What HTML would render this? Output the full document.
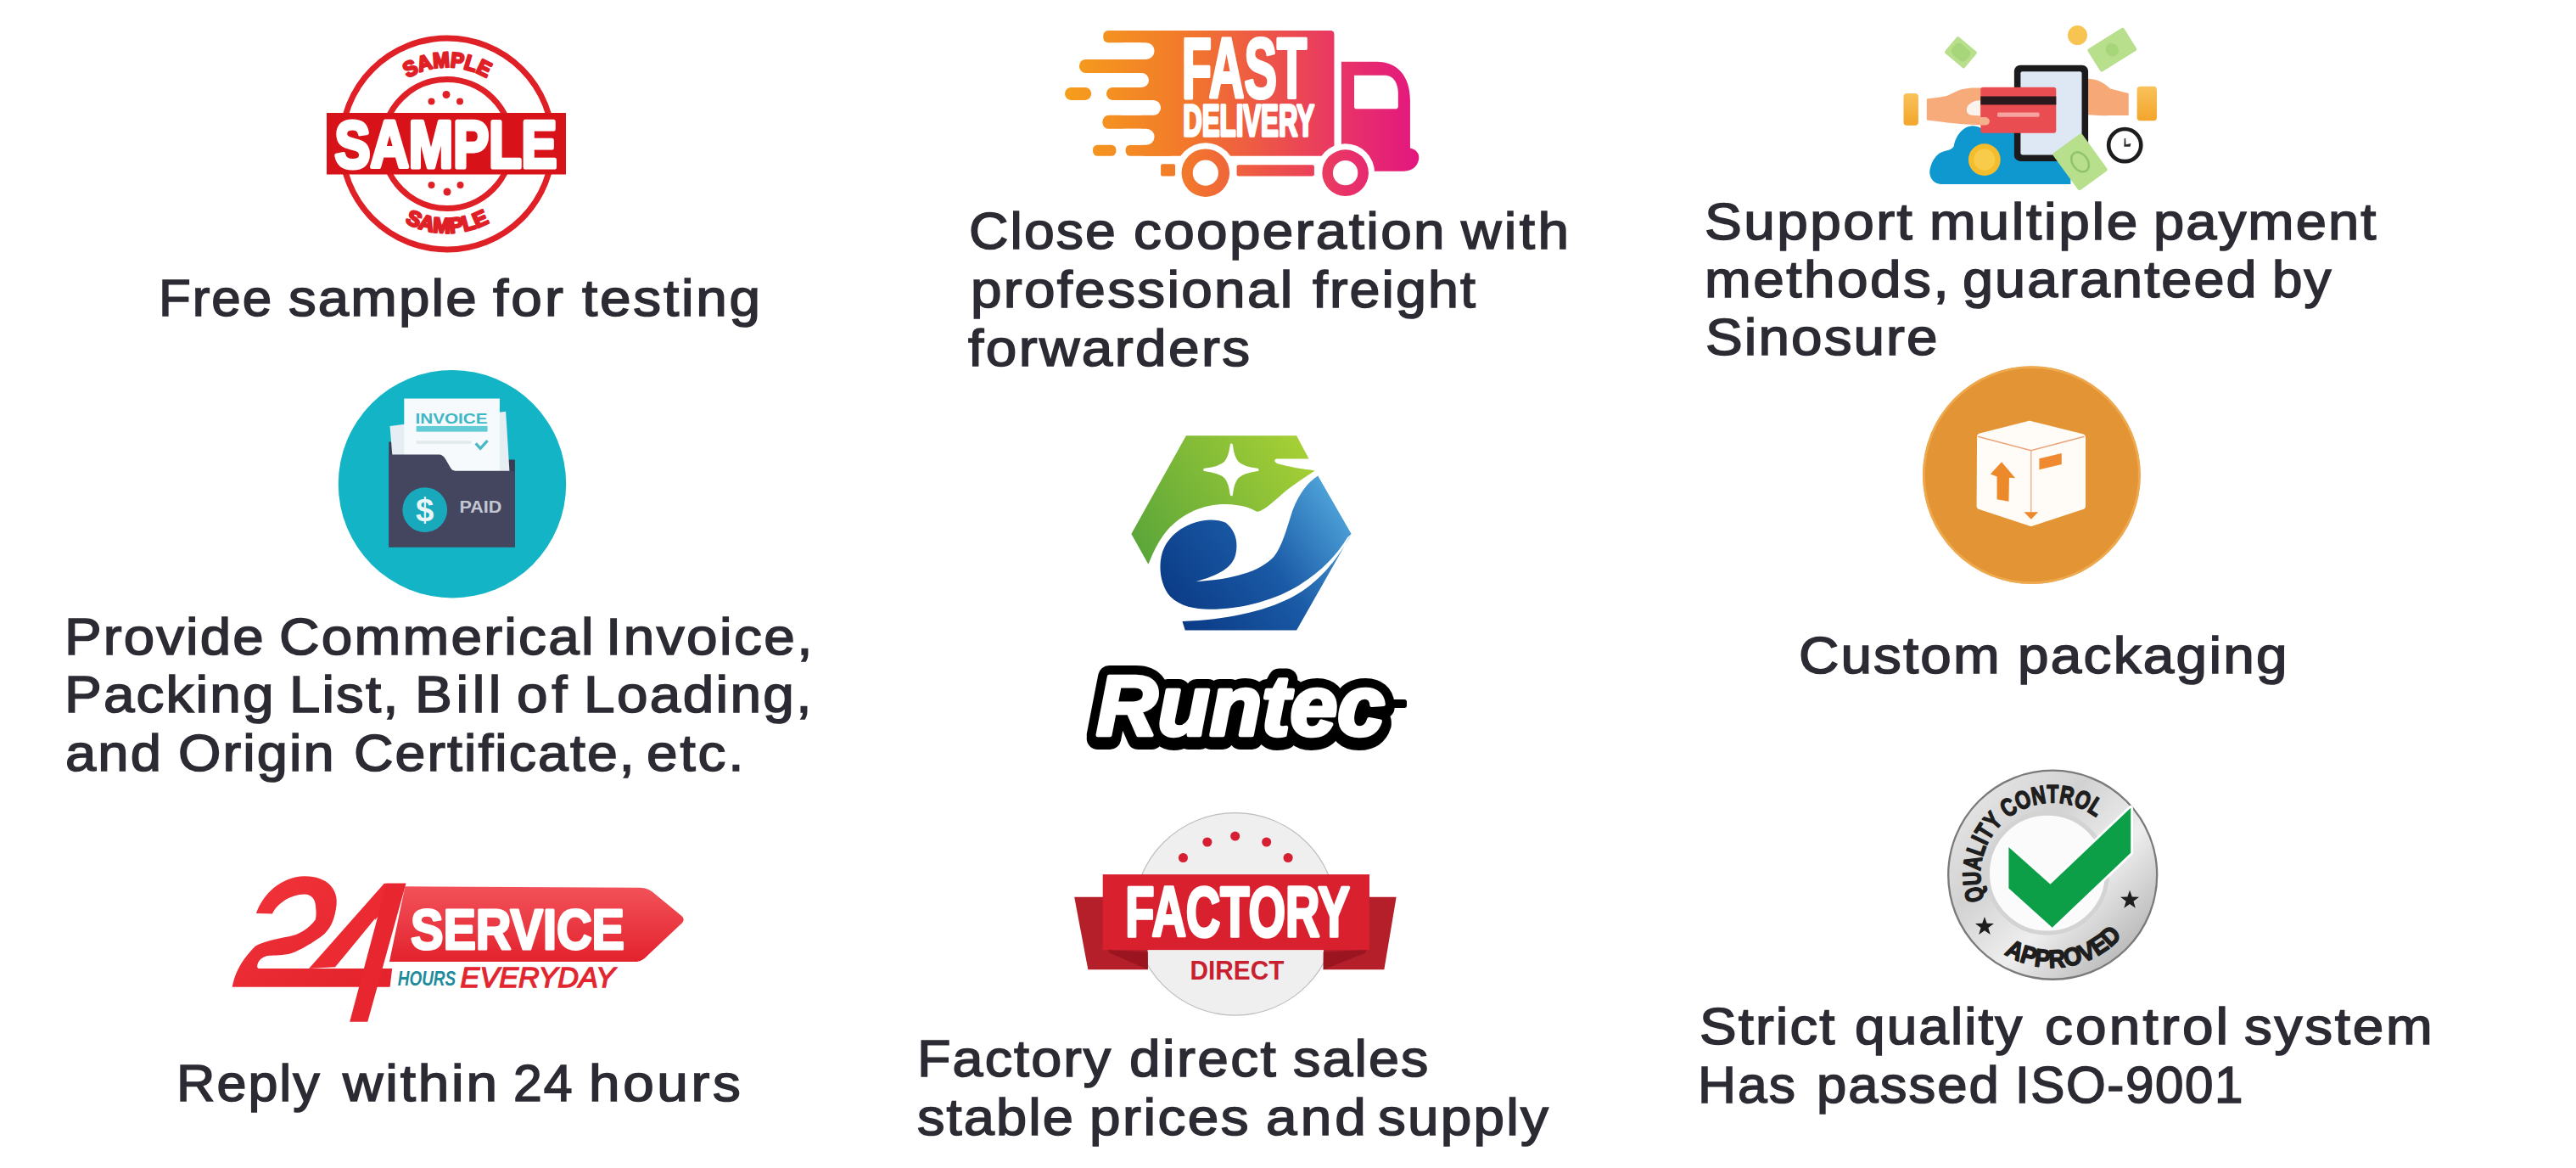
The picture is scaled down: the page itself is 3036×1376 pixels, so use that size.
<!DOCTYPE html>
<html><head><meta charset="utf-8"><style>
html,body{margin:0;padding:0;background:#fff;}
body{width:3036px;height:1376px;position:relative;overflow:hidden;}
.t{position:absolute;white-space:pre;transform-origin:0 0;font-family:"Liberation Sans",sans-serif;font-size:62px;line-height:62px;color:#2c2b33;-webkit-text-stroke:1.6px #2c2b33;}
svg{position:absolute;left:0;top:0;}
</style></head><body>
<svg width="3036" height="1376" viewBox="0 0 3036 1376">
<!-- SAMPLE stamp -->
<g id="stamp">
  <circle cx="527" cy="169.5" r="124.5" fill="none" stroke="#df2027" stroke-width="7"/>
  <circle cx="527" cy="169.5" r="76" fill="none" stroke="#df2027" stroke-width="7"/>
  <defs>
    <path id="stTop" d="M 436.5,169.5 A 90.5,90.5 0 0 1 617.5,169.5"/>
    <path id="stBot" d="M 422,169.5 A 105,105 0 0 0 632,169.5"/>
  </defs>
  <text font-family="Liberation Sans" font-weight="bold" font-size="25" fill="#df2027" stroke="#df2027" stroke-width="2.5" stroke-linejoin="round"><textPath href="#stTop" startOffset="50%" text-anchor="middle" textLength="98" lengthAdjust="spacingAndGlyphs">SAMPLE</textPath></text>
  <text font-family="Liberation Sans" font-weight="bold" font-size="25" fill="#df2027" stroke="#df2027" stroke-width="2.5" stroke-linejoin="round"><textPath href="#stBot" startOffset="50%" text-anchor="middle" textLength="104" lengthAdjust="spacingAndGlyphs">SAMPLE</textPath></text>
  <circle cx="508.5" cy="119.5" r="4" fill="#df2027"/>
  <circle cx="526" cy="111.5" r="4.5" fill="#df2027"/>
  <circle cx="542" cy="119.5" r="4" fill="#df2027"/>
  <circle cx="508.5" cy="218" r="4" fill="#df2027"/>
  <circle cx="527" cy="226" r="4.5" fill="#df2027"/>
  <circle cx="542.5" cy="218" r="4" fill="#df2027"/>
  <rect x="385" y="133" width="282" height="72.5" fill="#d81219"/>
  <text x="394.5" y="197" font-family="Liberation Sans" font-weight="bold" font-size="78" fill="#fff" stroke="#fff" stroke-width="5" stroke-linejoin="round" textLength="262" lengthAdjust="spacingAndGlyphs">SAMPLE</text>
</g>
<!-- Truck -->
<g id="truck" transform="translate(1240,20) scale(0.188359)">
  <defs>
    <linearGradient id="trg" gradientUnits="userSpaceOnUse" x1="80" y1="0" x2="2300" y2="0">
      <stop offset="0" stop-color="#f59e1c"/>
      <stop offset="0.33" stop-color="#f27a2a"/>
      <stop offset="0.62" stop-color="#ec4d4e"/>
      <stop offset="0.8" stop-color="#e8316a"/>
      <stop offset="1" stop-color="#e3167f"/>
    </linearGradient>
  </defs>
  <g fill="url(#trg)">
    <rect x="560" y="85" width="1205" height="785" rx="22"/>
    <rect x="320" y="85" width="400" height="75" rx="30"/>
    <rect x="170" y="265" width="520" height="85" rx="40"/>
    <rect x="80" y="440" width="165" height="80" rx="38"/>
    <rect x="340" y="440" width="400" height="80" rx="38"/>
    <rect x="315" y="615" width="420" height="85" rx="40"/>
    <rect x="255" y="800" width="145" height="70" rx="30"/>
    <rect x="460" y="800" width="300" height="70" rx="30"/>
    <rect x="680" y="920" width="90" height="75" rx="10"/>
    <rect x="1155" y="925" width="485" height="70" rx="12"/>
    <path d="M1810,280 L2030,280 C2160,280 2240,370 2240,520 L2240,820 C2290,830 2305,870 2290,905 C2275,950 2240,965 2180,965 L1810,965 Z"/>
  </g>
  <g fill="#fff">
    <rect x="400" y="160" width="240" height="105" rx="52"/>
    <rect x="400" y="350" width="205" height="90" rx="45"/>
    <rect x="400" y="520" width="280" height="95" rx="47"/>
    <rect x="400" y="700" width="240" height="100" rx="50"/>
    <path d="M1890,365 L2080,365 C2140,365 2165,420 2165,480 L2165,560 C2165,570 2158,575 2150,575 L1905,575 C1895,575 1890,570 1890,560 Z"/>
    <circle cx="960" cy="975" r="188"/>
    <circle cx="1835" cy="975" r="183"/>
  </g>
  <circle cx="960" cy="975" r="150" fill="url(#trg)"/>
  <circle cx="1835" cy="975" r="145" fill="url(#trg)"/>
  <circle cx="960" cy="975" r="80" fill="#fff"/>
  <circle cx="1835" cy="975" r="78" fill="#fff"/>
  <text x="811" y="504" font-family="Liberation Sans" font-weight="bold" font-size="528" fill="#fff" stroke="#fff" stroke-width="22" stroke-linejoin="round" textLength="783" lengthAdjust="spacingAndGlyphs">FAST</text>
  <text x="819" y="741" font-family="Liberation Sans" font-weight="bold" font-size="272" fill="#fff" stroke="#fff" stroke-width="18" stroke-linejoin="round" textLength="822" lengthAdjust="spacingAndGlyphs">DELIVERY</text>
</g>
<!-- Payment -->
<g id="pay" transform="translate(2230,20) scale(0.179824)">
  <defs>
    <linearGradient id="cuff" x1="0" y1="0" x2="0" y2="1">
      <stop offset="0" stop-color="#f9c25a"/><stop offset="1" stop-color="#f3a52c"/>
    </linearGradient>
  </defs>
  <!-- bills top -->
  <g transform="translate(450,232) rotate(40)"><rect x="-85" y="-70" width="170" height="140" rx="12" fill="#b7df8c"/><rect x="-60" y="-45" width="120" height="90" rx="30" fill="#a6d57a"/></g>
  <g transform="translate(1442,215) rotate(-32)"><rect x="-140" y="-88" width="280" height="176" rx="14" fill="#b7df8c"/><ellipse cx="0" cy="0" rx="40" ry="45" fill="#a6d57a"/></g>
  <circle cx="1215" cy="120" r="64" fill="#f7c451"/>
  <!-- cloud -->
  <path d="M330,1096 C255,1096 235,1030 251,985 C268,925 305,885 345,878 C375,872 398,862 405,845 C412,790 460,716 520,714 C565,712 595,735 605,750 L1170,750 L1170,1096 Z" fill="#0f97d0"/>
  <circle cx="605" cy="935" r="105" fill="#f5bd2c"/>
  <circle cx="605" cy="935" r="70" fill="#f8cc4a"/>
  <!-- right hand -->
  <path d="M1230,410 C1300,395 1370,410 1430,470 L1550,500 L1550,645 L1420,645 C1360,650 1300,640 1230,640 Z" fill="#f6a877"/>
  <rect x="1605" y="455" width="130" height="225" rx="22" fill="url(#cuff)"/>
  <!-- phone -->
  <rect x="800" y="315" width="485" height="630" rx="40" fill="#1b1b1d"/>
  <rect x="842" y="357" width="401" height="546" rx="12" fill="#dde8f4"/>
  <!-- left cuff & hand -->
  <rect x="75" y="500" width="97" height="210" rx="22" fill="url(#cuff)"/>
  <path d="M227,536 C300,528 340,522 361,516 C400,500 430,480 461,473 C500,464 530,462 575,465 L600,470 L600,709 L461,702 L361,692 L227,676 Z" fill="#f7ab7b"/>
  <!-- card -->
  <rect x="580" y="460" width="495" height="300" rx="16" fill="#ea4d51"/>
  <rect x="580" y="520" width="495" height="55" fill="#2a1a1f"/>
  <rect x="690" y="625" width="275" height="30" rx="8" fill="#f6a2a0"/>
  <!-- thumb -->
  <path d="M575,656 L612,656 C648,660 648,706 612,709 L575,709 Z" fill="#f4b08c"/>
  <path d="M578,546 C540,546 502,562 490,596 C483,626 500,640 522,643 L578,648 Z" fill="#fbf3ee"/>
  <!-- bottom bill -->
  <g transform="translate(1232,950) rotate(-36)"><rect x="-118" y="-150" width="236" height="300" rx="14" fill="#b7df8c"/><ellipse cx="0" cy="0" rx="50" ry="70" fill="none" stroke="#8fc46a" stroke-width="14"/></g>
  <!-- clock -->
  <circle cx="1525" cy="840" r="106" fill="#fff" stroke="#1d1d1f" stroke-width="26"/>
  <path d="M1522,795 L1530,795 L1532,835 L1565,828 L1560,850 L1520,850 Z" fill="#2a2a2a"/>
</g>
<!-- Invoice -->
<g id="inv" transform="translate(390,430) scale(0.239693)">
  <circle cx="596.5" cy="585" r="560" fill="#12b4c6"/>
  <path d="M285,378 L335,378 L335,465 L905,465 L905,895 L285,895 Z" fill="#3a3c52"/>
  <polygon points="290,300 860,228 878,522 308,522" fill="#e6eef4"/>
  <rect x="360" y="165" width="470" height="357" fill="#f6fafc"/>
  <text x="415" y="287" font-family="Liberation Sans" font-weight="bold" font-size="72" fill="#3fb8c6" textLength="355" lengthAdjust="spacingAndGlyphs">INVOICE</text>
  <rect x="420" y="300" width="350" height="28" fill="#63cbd6"/>
  <rect x="420" y="372" width="270" height="16" fill="#e3eaee"/>
  <path d="M712,385 L735,410 L770,372" fill="none" stroke="#4ab9c6" stroke-width="14"/>
  <path d="M285,440 L528,440 C545,440 555,448 565,465 L588,505 C594,515 600,520 612,520 L905,520 L905,895 L285,895 Z" fill="#43465e"/>
  <circle cx="462" cy="712" r="110" fill="#18aabc"/>
  <text x="462" y="768" text-anchor="middle" font-family="Liberation Sans" font-weight="bold" font-size="160" fill="#e8f6f8">$</text>
  <text x="632" y="726" font-family="Liberation Sans" font-weight="bold" font-size="84" fill="#c3c6d2" textLength="208" lengthAdjust="spacingAndGlyphs">PAID</text>
</g>
<!-- Runtec -->
<g id="runtec" transform="translate(1320,500) scale(0.222568)">
  <defs>
    <linearGradient id="rgGreen" gradientUnits="userSpaceOnUse" x1="100" y1="700" x2="1000" y2="80">
      <stop offset="0" stop-color="#5aa53a"/><stop offset="1" stop-color="#a9d135"/>
    </linearGradient>
    <linearGradient id="rgBlue" gradientUnits="userSpaceOnUse" x1="300" y1="1000" x2="1200" y2="350">
      <stop offset="0" stop-color="#0b3b86"/><stop offset="0.5" stop-color="#1a5aa6"/><stop offset="1" stop-color="#55ace0"/>
    </linearGradient>
  </defs>
  <!-- green -->
  <path d="M60,580 L350,60 L935,60 L1000,182 L830,182 C815,185 815,200 835,208 C900,228 980,235 1032,245 C980,280 900,330 840,385 C790,430 750,460 725,462 C690,440 640,425 560,422 C440,422 330,470 250,560 C200,620 170,690 150,740 Z" fill="url(#rgGreen)"/>
  <!-- blue main -->
  <path d="M480,505 C380,508 280,560 235,650 C200,720 205,840 265,910 C320,965 400,978 470,978 C640,980 820,930 950,850 C1070,775 1150,690 1205,598 L1225,580 L1048,272 C995,305 945,370 912,460 C880,560 860,640 815,700 C740,780 600,820 402,832 C520,800 595,760 612,690 C628,620 610,560 560,520 C535,508 510,505 480,505 Z" fill="url(#rgBlue)"/>
  <!-- bottom strip -->
  <path d="M330,1042 C560,1035 760,990 900,920 C1040,850 1140,730 1215,600 L1225,580 L935,1090 L345,1090 Z" fill="url(#rgBlue)"/>
  <!-- star -->
  <path d="M590,108 C600,195 618,225 728,240 C618,255 600,285 590,372 C580,285 562,255 448,240 C562,225 580,195 590,108 Z" fill="#fff" stroke="#fff" stroke-width="14" stroke-linejoin="round"/>
</g>
<!-- Runtec text -->
<g id="runtecText" font-family="Liberation Sans" font-weight="bold" font-style="italic" font-size="100" stroke-linejoin="round">
  <text x="1292" y="866" fill="#000" stroke="#000" stroke-width="26" textLength="340" lengthAdjust="spacingAndGlyphs" transform="translate(0,4)">Runtec</text>
  <text x="1292" y="866" fill="#000" stroke="#000" stroke-width="26" textLength="340" lengthAdjust="spacingAndGlyphs">Runtec</text>
  <rect x="1622" y="824" width="36" height="10" rx="3" fill="#000"/>
  <text x="1292" y="866" fill="#fff" stroke="#fff" stroke-width="4.5" textLength="340" lengthAdjust="spacingAndGlyphs">Runtec</text>
</g>
<!-- Box -->
<g id="box" transform="translate(2250,420) scale(0.239693)">
  <circle cx="602.5" cy="582.5" r="535" fill="#e39435"/>
  <circle cx="602.5" cy="582.5" r="530" fill="none" stroke="#eea94f" stroke-width="12"/>
  <path d="M590,334 L352,395 L350,734 L600,816 L850,734 L850,398 Z" fill="#fffbf6" stroke="#fffbf6" stroke-width="36" stroke-linejoin="round"/>
  <path d="M338,393 L600,462 L862,393" fill="none" stroke="#eba57a" stroke-width="7"/>
  <path d="M600,462 L600,790" fill="none" stroke="#eaa478" stroke-width="5"/>
  <path d="M455,518 L522,598 L492,596 L490,712 L432,702 L432,590 L400,578 Z" fill="#ec8a2b"/>
  <path d="M640,502 L750,476 L750,530 L640,556 Z" fill="#ef8a30"/>
  <path d="M565,765 L635,765 L600,800 Z" fill="#ec8a2b"/>
</g>
<!-- 24 service -->
<g id="s24" transform="translate(260,1020) scale(0.217391)">
  <defs>
    <linearGradient id="rg24" x1="0" y1="0" x2="0" y2="1">
      <stop offset="0" stop-color="#f2525a"/><stop offset="1" stop-color="#e3222d"/>
    </linearGradient>
    <linearGradient id="rg24b" x1="0" y1="0" x2="1" y2="1">
      <stop offset="0" stop-color="#f2343a"/><stop offset="1" stop-color="#e3222c"/>
    </linearGradient>
  </defs>
  <!-- banner -->
  <path d="M1000,112 L2270,118 C2300,118 2320,126 2340,140 L2495,268 C2515,284 2515,300 2495,316 L2300,500 C2282,515 2265,520 2240,520 L915,520 Z" fill="url(#rg24)"/>
  <!-- 2 + bar -->
  <path d="M193,258 C230,150 330,58 454,56 C575,54 640,125 628,215 C618,290 600,330 566,366 C530,400 430,460 384,474 C340,487 290,484 263,487 C225,492 200,515 198,548 L205,556.6 L930,556.6 L918,656.4 L63.5,656.4 C75,600 95,530 189,435 C230,412 300,395 371,383 C420,375 480,340 514,292 C520,270 518,245 516,227 C516,180 490,154 454,154 C380,156 310,200 280,260 Z" fill="url(#rg24b)"/>
  <!-- 4 diagonal -->
  <path d="M887,95 L1005,95 L622,548 L479,557 Z" fill="#ec2a32"/>
  <!-- 4 stem -->
  <path d="M900,95 L1005,95 L797,845 L700,845 Z" fill="#e8262f"/>
  <!-- counter -->
  <path d="M839,284 L622,548 L774,548 Z" fill="#fff"/>
  <text x="1030" y="450" font-family="Liberation Sans" font-weight="bold" font-size="310" fill="#fff" stroke="#fff" stroke-width="14" stroke-linejoin="round" textLength="1160" lengthAdjust="spacingAndGlyphs">SERVICE</text>
  <text x="1300" y="660" font-family="Liberation Sans" font-style="italic" font-size="152" fill="#e2262f" stroke="#e2262f" stroke-width="6" textLength="840" lengthAdjust="spacingAndGlyphs">EVERYDAY</text>
  <text x="960" y="650" font-family="Liberation Sans" font-weight="bold" font-style="italic" font-size="108" fill="#1f8c9c" textLength="315" lengthAdjust="spacingAndGlyphs">HOURS</text>
</g>
<!-- Factory -->
<g id="factory" transform="translate(1250,940) scale(0.231107)">
  <circle cx="890" cy="592" r="516" fill="#efefef" stroke="#bdbdbd" stroke-width="5"/>
  <polygon points="70,505 440,505 445,875 140,875" fill="#b41f2a"/>
  <polygon points="1345,505 1712,505 1650,875 1340,875" fill="#b41f2a"/>
  <polygon points="240,775 445,785 445,875 250,790" fill="#9a1520"/>
  <polygon points="1340,785 1560,775 1555,790 1340,875" fill="#9a1520"/>
  <rect x="215" y="390" width="1360" height="385" fill="#d9202e"/>
  <g fill="#d61f33">
    <circle cx="625" cy="305" r="24"/><circle cx="748" cy="225" r="24"/><circle cx="890" cy="195" r="24"/><circle cx="1050" cy="225" r="24"/><circle cx="1160" cy="305" r="24"/>
  </g>
  <text x="330" y="707" font-family="Liberation Sans" font-weight="bold" font-size="360" fill="#fff" stroke="#fff" stroke-width="16" stroke-linejoin="round" textLength="1145" lengthAdjust="spacingAndGlyphs">FACTORY</text>
  <text x="660" y="925" font-family="Liberation Sans" font-weight="bold" font-size="136" fill="#c8202f" textLength="480" lengthAdjust="spacingAndGlyphs">DIRECT</text>
</g>
<!-- Quality -->
<g id="quality" transform="translate(2280,895) scale(0.231214)">
  <defs>
    <linearGradient id="silver" x1="0" y1="0" x2="1" y2="1">
      <stop offset="0" stop-color="#ededed"/><stop offset="0.35" stop-color="#d2d2d2"/><stop offset="0.6" stop-color="#eeeeee"/><stop offset="0.85" stop-color="#bdbdbd"/><stop offset="1" stop-color="#8f8f8f"/>
    </linearGradient>
    <path id="qTop" d="M256.2,712.9 A368,368 0 0 1 853.0,317.9"/>
    <path id="qBot" d="M298.6,948.6 A472,472 0 0 0 997.9,844.1"/>
  </defs>
  <circle cx="602" cy="587" r="532" fill="url(#silver)" stroke="#7a7a7a" stroke-width="10"/>
  <circle cx="575" cy="578" r="305" fill="#fbfbfb" stroke="#d3d3d3" stroke-width="22"/>
  <text font-family="Liberation Sans" font-weight="bold" font-size="128" fill="#1e1e1e" stroke="#1e1e1e" stroke-width="7" stroke-linejoin="round"><textPath href="#qTop" textLength="945" lengthAdjust="spacingAndGlyphs">QUALITY CONTROL</textPath></text>
  <text font-family="Liberation Sans" font-weight="bold" font-size="128" fill="#1e1e1e" stroke="#1e1e1e" stroke-width="7" stroke-linejoin="round"><textPath href="#qBot" startOffset="50%" text-anchor="middle" textLength="660" lengthAdjust="spacingAndGlyphs">APPROVED</textPath></text>
  <polygon points="255.0,800.0 266.8,833.8 302.6,834.5 274.0,856.2 284.4,890.5 255.0,870.0 225.6,890.5 236.0,856.2 207.4,834.5 243.2,833.8" fill="#1e1e1e"/>
  <polygon points="995.0,665.0 1006.8,698.8 1042.6,699.5 1014.0,721.2 1024.4,755.5 995.0,735.0 965.6,755.5 976.0,721.2 947.4,699.5 983.2,698.8" fill="#1e1e1e"/>
  <polygon points="378,445 590,635 1000,245 1000,475 600,855 378,655" fill="#0c9f48" stroke="#fff" stroke-width="24" stroke-linejoin="round" paint-order="stroke"/>
</g>
</svg>

<div class="t" style="left:186.6px;top:320.2px;letter-spacing:2.00px;transform:scaleX(0.9977)">Free</div>
<div class="t" style="left:340.4px;top:320.2px;letter-spacing:2.00px;transform:scaleX(1.0560)">sample</div>
<div class="t" style="left:581.1px;top:320.2px;letter-spacing:2.87px;transform:scaleX(1.0600)">for</div>
<div class="t" style="left:685.9px;top:320.2px;letter-spacing:2.59px;transform:scaleX(1.0600)">testing</div>
<div class="t" style="left:1141.5px;top:240.7px;letter-spacing:2.00px;transform:scaleX(1.0380)">Close</div>
<div class="t" style="left:1336.2px;top:240.7px;letter-spacing:2.18px;transform:scaleX(1.0600)">cooperation</div>
<div class="t" style="left:1721.9px;top:240.7px;letter-spacing:3.21px;transform:scaleX(1.0600)">with</div>
<div class="t" style="left:1143.8px;top:309.9px;letter-spacing:2.14px;transform:scaleX(1.0600)">professional</div>
<div class="t" style="left:1546.5px;top:309.9px;letter-spacing:2.00px;transform:scaleX(1.0416)">freight</div>
<div class="t" style="left:1141.3px;top:378.8px;letter-spacing:2.28px;transform:scaleX(1.0600)">forwarders</div>
<div class="t" style="left:2009.0px;top:229.9px;letter-spacing:2.30px;transform:scaleX(1.0600)">Support</div>
<div class="t" style="left:2273.7px;top:229.9px;letter-spacing:2.54px;transform:scaleX(1.0600)">multiple</div>
<div class="t" style="left:2537.9px;top:229.9px;letter-spacing:2.00px;transform:scaleX(1.0506)">payment</div>
<div class="t" style="left:2008.9px;top:297.7px;letter-spacing:2.34px;transform:scaleX(1.0600)">methods,</div>
<div class="t" style="left:2313.0px;top:297.7px;letter-spacing:2.00px;transform:scaleX(1.0448)">guaranteed</div>
<div class="t" style="left:2678.1px;top:297.7px;letter-spacing:2.00px;transform:scaleX(1.0292)">by</div>
<div class="t" style="left:2010.0px;top:366.4px;letter-spacing:2.00px;transform:scaleX(1.0573)">Sinosure</div>
<div class="t" style="left:76.2px;top:718.9px;letter-spacing:2.00px;transform:scaleX(1.0556)">Provide</div>
<div class="t" style="left:328.8px;top:718.9px;letter-spacing:2.10px;transform:scaleX(1.0600)">Commerical</div>
<div class="t" style="left:714.3px;top:718.9px;letter-spacing:2.29px;transform:scaleX(1.0600)">Invoice,</div>
<div class="t" style="left:76.2px;top:786.8px;letter-spacing:2.00px;transform:scaleX(1.0596)">Packing</div>
<div class="t" style="left:340.5px;top:786.8px;letter-spacing:2.00px;transform:scaleX(1.0549)">List,</div>
<div class="t" style="left:489.1px;top:786.8px;letter-spacing:4.34px;transform:scaleX(1.0600)">Bill</div>
<div class="t" style="left:608.7px;top:786.8px;letter-spacing:4.38px;transform:scaleX(1.0600)">of</div>
<div class="t" style="left:687.8px;top:786.8px;letter-spacing:2.20px;transform:scaleX(1.0600)">Loading,</div>
<div class="t" style="left:76.5px;top:855.8px;letter-spacing:2.00px;transform:scaleX(1.0510)">and</div>
<div class="t" style="left:209.6px;top:855.8px;letter-spacing:2.00px;transform:scaleX(1.0465)">Origin</div>
<div class="t" style="left:416.9px;top:855.8px;letter-spacing:2.00px;transform:scaleX(1.0389)">Certificate,</div>
<div class="t" style="left:762.4px;top:855.8px;letter-spacing:2.68px;transform:scaleX(1.0600)">etc.</div>
<div class="t" style="left:2120.0px;top:740.6px;letter-spacing:2.00px;transform:scaleX(1.0578)">Custom</div>
<div class="t" style="left:2378.4px;top:740.6px;letter-spacing:2.12px;transform:scaleX(1.0600)">packaging</div>
<div class="t" style="left:208.2px;top:1245.2px;letter-spacing:2.00px;transform:scaleX(1.0135)">Reply</div>
<div class="t" style="left:404.4px;top:1245.2px;letter-spacing:2.65px;transform:scaleX(1.0600)">within</div>
<div class="t" style="left:605.1px;top:1245.2px;letter-spacing:2.00px;transform:scaleX(0.9794)">24</div>
<div class="t" style="left:694.0px;top:1245.2px;letter-spacing:3.43px;transform:scaleX(1.0600)">hours</div>
<div class="t" style="left:1081.1px;top:1215.8px;letter-spacing:2.00px;transform:scaleX(1.0433)">Factory</div>
<div class="t" style="left:1331.1px;top:1215.8px;letter-spacing:2.28px;transform:scaleX(1.0600)">direct</div>
<div class="t" style="left:1524.0px;top:1215.8px;letter-spacing:2.00px;transform:scaleX(1.0427)">sales</div>
<div class="t" style="left:1081.4px;top:1284.7px;letter-spacing:2.00px;transform:scaleX(1.0486)">stable</div>
<div class="t" style="left:1284.2px;top:1284.7px;letter-spacing:2.33px;transform:scaleX(1.0600)">prices</div>
<div class="t" style="left:1491.9px;top:1284.7px;letter-spacing:3.88px;transform:scaleX(1.0600)">and</div>
<div class="t" style="left:1624.2px;top:1284.7px;letter-spacing:2.07px;transform:scaleX(1.0600)">supply</div>
<div class="t" style="left:2002.7px;top:1178.4px;letter-spacing:2.00px;transform:scaleX(1.0540)">Strict</div>
<div class="t" style="left:2186.1px;top:1178.4px;letter-spacing:2.00px;transform:scaleX(1.0316)">quality</div>
<div class="t" style="left:2409.5px;top:1178.4px;letter-spacing:2.98px;transform:scaleX(1.0600)">control</div>
<div class="t" style="left:2644.5px;top:1178.4px;letter-spacing:2.56px;transform:scaleX(1.0600)">system</div>
<div class="t" style="left:2000.8px;top:1246.9px;letter-spacing:2.00px;transform:scaleX(1.0055)">Has</div>
<div class="t" style="left:2140.8px;top:1246.9px;letter-spacing:2.00px;transform:scaleX(1.0230)">passed</div>
<div class="t" style="left:2375.2px;top:1246.9px;letter-spacing:1.64px;transform:scaleX(0.9700)">ISO-9001</div>
</body></html>
